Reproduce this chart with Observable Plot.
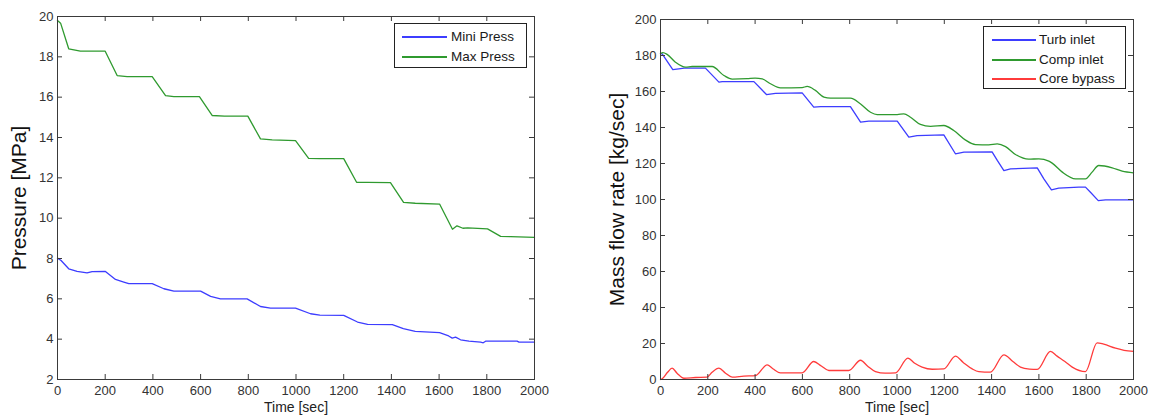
<!DOCTYPE html>
<html><head><meta charset="utf-8">
<script src="https://cdn.jsdelivr.net/npm/d3@7"></script>
<script src="https://cdn.jsdelivr.net/npm/@observablehq/plot@0.6"></script>
<style>
body{margin:0;background:#fff;font-family:"Liberation Sans",Arial,sans-serif;}
#wrap{position:relative;width:1151px;height:417px;overflow:hidden;background:#fff}
.panel{position:absolute;top:0}
.legend{position:absolute;background:#fff;border:1px solid #222;box-sizing:border-box;font-size:13.5px;color:#1a1a1a}
.legend .row{position:absolute;left:0;height:18px;width:100%}
.legend .sw{position:absolute;top:8px;height:1.5px}
.legend .lb{position:absolute;top:0;line-height:18px;white-space:nowrap}
</style>
</head><body>
<div id="wrap"></div>
<script>
// ---- data ----
const xTicks = [0,200,400,600,800,1000,1200,1400,1600,1800,2000];
const pressTicks = [2,4,6,8,10,12,14,16,18,20];
const flowTicks = [0,20,40,60,80,100,120,140,160,180,200];

const miniT = [0,15,47,82,124,145,201,243,278,299,397,446,488,600,642,683,795,851,893,998,1061,1100,1200,1258,1300,1404,1450,1500,1602,1640,1655,1669,1690,1725,1774,1785,1795,1927,1935,2000];
const miniV = [8.02,7.9,7.49,7.36,7.29,7.35,7.36,6.96,6.83,6.75,6.75,6.5,6.38,6.38,6.12,6.0,6.0,5.62,5.54,5.54,5.26,5.19,5.18,4.85,4.73,4.72,4.52,4.39,4.32,4.16,4.05,4.1,3.97,3.9,3.85,3.82,3.9,3.9,3.85,3.85];

const maxT = [0,13,47,96,200,250,292,397,453,488,595,649,700,798,851,900,998,1053,1100,1200,1254,1300,1396,1451,1500,1602,1656,1675,1700,1720,1803,1858,1900,2000];
const maxV = [19.8,19.67,18.4,18.28,18.28,17.07,17.02,17.02,16.08,16.03,16.03,15.09,15.06,15.06,13.93,13.88,13.85,12.96,12.95,12.95,11.78,11.77,11.76,10.78,10.74,10.7,9.45,9.62,9.5,9.52,9.47,9.1,9.08,9.05];

const turbT = [0,7,52,77,100,190,247,261,395,448,486,599,648,677,803,846,881,1001,1050,1085,1198,1247,1283,1402,1424,1452,1480,1593,1621,1653,1684,1769,1797,1818,1851,1882,2000];
const turbV = [181,180.9,172.2,172.6,173,173,165.2,165.5,165.5,158.3,159,159.2,151.3,151.6,151.6,143,143.5,143.5,134.6,135.5,135.9,125.4,126.3,126.5,121.7,116.1,117,117.6,111.5,105.4,106.3,106.9,106.9,104,99.4,99.8,99.8];

const compT = [0,10,28,63,106,134,218,268,303,366,400,430,465,507,599,620,655,691,719,803,846,888,916,1001,1029,1057,1099,1142,1198,1240,1290,1332,1388,1424,1459,1501,1557,1600,1642,1656,1699,1755,1797,1825,1853,1910,1952,2000];
const compV = [181,181.6,180.6,176.3,173.5,173.9,173.9,168.9,166.9,167.1,167.4,167,164.3,162,162.2,162.8,160.6,156.9,156.3,156.3,153.1,148.5,147.2,147.2,147.6,145.7,141.7,140.6,141.1,138.3,133,130.5,130.4,130.9,129.4,125,122.4,122.6,121.3,120.2,115.2,111.5,111.5,115.2,118.9,117.6,115.7,114.8];

const coreT = [0,7,30,49,70,99,148,197,218,247,275,303,352,402,451,475,507,599,648,680,712,796,846,875,909,950,994,1046,1075,1106,1149,1198,1247,1280,1318,1346,1395,1452,1490,1522,1560,1593,1649,1677,1710,1741,1797,1846,1874,1924,1960,2000];
const coreV = [0,0.4,4,6.3,3.5,0.7,1.1,1.3,4,6.3,3.5,1.3,1.9,2.2,8.1,6,3.7,3.7,10,7.5,5,5,10.7,7.5,4.4,3.5,3.7,11.9,9,6.9,5.7,5.9,13,9.5,5.9,4.4,4.1,13.7,10,6.9,5.8,5.6,15.6,13,10,6.9,4.4,20.4,19.6,17.4,16.2,15.6];

const BLUE = "#3d3dff", GREEN = "#2f9a2f", RED = "#ff3b3b";
const AX = "#3a3a3a";
const FONT = "Liberation Sans, Arial, sans-serif";

function toRows(ts, vs){ return ts.map((t,i)=>({t, v: vs[i]})); }

function panel({width, ml, mr, mt, mb, yDomain, yTicks, series, ytitle, ytitleDx}) {
  const H = 417;
  const plotH = H - mt - mb, plotW = width - ml - mr;
  return Plot.plot({
    width, height: H, marginLeft: ml, marginRight: mr, marginTop: mt, marginBottom: mb,
    x: {domain: [0, 2000]}, y: {domain: yDomain},
    style: {fontFamily: FONT, background: "white", overflow: "visible"},
    marks: [
      ...series.map(s => Plot.line(toRows(s.t, s.v), {x: "t", y: "v", stroke: s.color, strokeWidth: 1.3, curve: s.curve || "linear"})),
      Plot.tickX(xTicks, {x: d => d, insetTop: plotH - 5, stroke: AX}),
      Plot.tickX(xTicks, {x: d => d, insetBottom: plotH - 5, stroke: AX}),
      Plot.tickY(yTicks, {y: d => d, insetRight: plotW - 5, stroke: AX}),
      Plot.tickY(yTicks, {y: d => d, insetLeft: plotW - 5, stroke: AX}),
      Plot.frame({stroke: AX}),
      Plot.axisX(xTicks, {tickSize: 0, tickPadding: 6, fontSize: 13, tickFormat: d => String(d), fill: "#333", label: null}),
      Plot.axisY(yTicks, {tickSize: 0, tickPadding: 4, fontSize: 13, tickFormat: d => String(d), fill: "#333", label: null}),
      Plot.text([ytitle], {frameAnchor: "left", textAnchor: "middle", rotate: -90, dx: ytitleDx, lineAnchor: "bottom", fontSize: 21, fill: "#111"}),
      Plot.text(["Time [sec]"], {frameAnchor: "bottom", dy: 23, lineAnchor: "top", fontSize: 14, fill: "#222"})
    ]
  });
}

const wrap = document.getElementById("wrap");

const left = panel({width: 560, ml: 57, mr: 26, mt: 16, mb: 38, yDomain: [2, 20], yTicks: pressTicks,
  series: [{t: miniT, v: miniV, color: BLUE}, {t: maxT, v: maxV, color: GREEN}],
  ytitle: "Pressure [MPa]", ytitleDx: -32});
left.classList.add("panel"); left.style.left = "0px";
wrap.appendChild(left);

const right = panel({width: 591, ml: 100, mr: 18, mt: 19, mb: 38, yDomain: [0, 200], yTicks: flowTicks,
  series: [{t: turbT, v: turbV, color: BLUE}, {t: compT, v: compV, color: GREEN, curve: "monotone-x"}, {t: coreT, v: coreV, color: RED, curve: "monotone-x"}],
  ytitle: "Mass flow rate [kg/sec]", ytitleDx: -37});
right.classList.add("panel"); right.style.left = "560px";
wrap.appendChild(right);

function legend(x, y, w, h, entries, swLeft, swWidth, lbLeft, rowTops) {
  const box = document.createElement("div");
  box.className = "legend";
  Object.assign(box.style, {left: x + "px", top: y + "px", width: w + "px", height: h + "px"});
  entries.forEach((e, i) => {
    const row = document.createElement("div");
    row.className = "row"; row.style.top = rowTops[i] + "px";
    const sw = document.createElement("div");
    sw.className = "sw"; Object.assign(sw.style, {left: swLeft + "px", width: swWidth + "px", background: e.color});
    const lb = document.createElement("div");
    lb.className = "lb"; lb.style.left = lbLeft + "px"; lb.textContent = e.label;
    row.appendChild(sw); row.appendChild(lb); box.appendChild(row);
  });
  wrap.appendChild(box);
}
legend(394, 23, 133, 45, [{label: "Mini Press", color: BLUE}, {label: "Max Press", color: GREEN}], 7, 45, 56, [4, 24]);
legend(983, 26, 143, 63, [{label: "Turb inlet", color: BLUE}, {label: "Comp inlet", color: GREEN}, {label: "Core bypass", color: RED}], 8, 44, 55, [4, 24, 43]);
</script>
</body></html>
